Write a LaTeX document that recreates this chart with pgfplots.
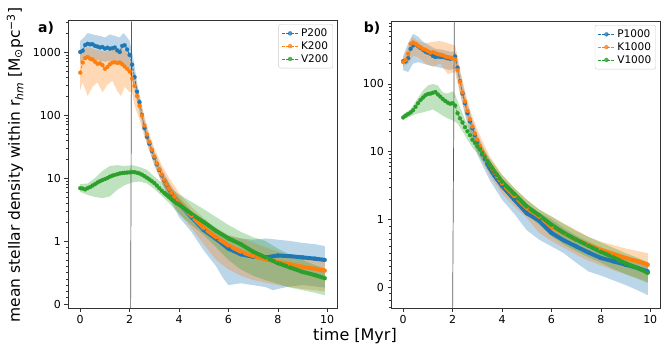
\documentclass[border=0pt]{standalone}
\usepackage{fontspec}
\setmainfont{DejaVu Sans}
\usepackage{pgfplots}
\usepackage{pgfplotstable}
\pgfplotsset{compat=1.18}

\definecolor{tabblue}{HTML}{1F77B4}
\definecolor{taborange}{HTML}{FF7F0E}
\definecolor{tabgreen}{HTML}{2CA02C}

% ---- panel a) ----
\pgfplotstableread{
x y
0.0 1000
0.1 1050
0.2 1290
0.3 1350
0.4 1320
0.5 1330
0.6 1250
0.7 1220
0.8 1180
0.9 1200
1.0 1130
1.1 1170
1.2 1130
1.3 1150
1.4 1180
1.5 1060
1.6 1000
1.7 1250
1.8 1280
1.9 1100
2.0 900
2.1 630
2.2 400
2.3 235
2.4 160
2.5 100
2.6 62
2.7 45
2.8 35
2.9 27
3.0 21
3.1 16.5
3.2 13.4
3.3 11
3.4 9.2
3.5 7.8
3.6 6.6
3.7 5.6
3.8 4.9
3.9 4.4
4.0 4.0
4.5 2.4
5.0 1.5
5.5 1.08
6.0 0.88
6.5 0.79
7.0 0.75
7.5 0.74
8.0 0.77
8.5 0.76
9.0 0.74
9.5 0.72
9.9 0.70
}\Ptwo

\pgfplotstableread{
x y
0.0 470
0.1 680
0.2 800
0.3 830
0.4 780
0.5 760
0.6 700
0.7 650
0.8 660
0.9 620
1.0 540
1.1 580
1.2 640
1.3 680
1.4 690
1.5 670
1.6 680
1.7 640
1.8 590
1.9 540
2.0 490
2.1 380
2.2 290
2.3 200
2.4 140
2.5 98
2.6 68
2.7 49
2.8 37
2.9 28
3.0 22
3.1 17
3.2 13.8
3.3 11.3
3.4 9.4
3.5 7.9
3.6 6.7
3.7 5.8
3.8 5.0
3.9 4.4
4.0 4.0
4.5 2.5
5.0 1.6
5.5 1.15
6.0 0.93
6.5 0.83
7.0 0.76
7.5 0.71
8.0 0.67
8.5 0.63
9.0 0.59
9.5 0.56
9.9 0.53
}\Ktwo

\pgfplotstableread{
x y
0.0 6.9
0.1 6.8
0.2 6.6
0.3 6.9
0.4 7.2
0.5 7.6
0.6 8.0
0.7 8.5
0.8 8.9
0.9 9.3
1.0 9.6
1.1 10.0
1.2 10.5
1.3 10.9
1.4 11.2
1.5 11.5
1.6 11.8
1.7 12.0
1.8 12.1
1.9 12.2
2.0 12.3
2.1 12.4
2.2 12.4
2.3 12.1
2.4 11.8
2.5 11.3
2.6 10.7
2.7 10.1
2.8 9.5
2.9 8.9
3.0 8.3
3.1 7.6
3.2 6.9
3.3 6.3
3.4 5.8
3.5 5.4
3.6 5.0
3.7 4.6
3.8 4.3
3.9 4.0
4.0 3.8
4.5 2.7
5.0 2.0
5.5 1.45
6.0 1.1
6.5 0.95
7.0 0.83
7.5 0.74
8.0 0.65
8.5 0.58
9.0 0.51
9.5 0.46
9.9 0.41
}\Vtwo

% ---- panel b) ----
\pgfplotstableread{
x y
0.0 218
0.1 215
0.2 240
0.3 330
0.4 370
0.5 385
0.6 360
0.7 340
0.8 320
0.9 300
1.0 290
1.1 280
1.2 260
1.3 250
1.4 255
1.5 250
1.6 250
1.7 245
1.8 240
1.9 235
2.0 240
2.1 255
2.2 174
2.3 110
2.4 72
2.5 52
2.6 37
2.7 28
2.8 22
2.9 17.5
3.0 14
3.1 11.3
3.2 9.1
3.3 7.8
3.4 6.6
3.5 5.7
3.6 5.0
3.7 4.4
3.8 3.9
3.9 3.5
4.0 3.1
4.5 1.95
5.0 1.23
5.5 0.98
6.0 0.80
6.5 0.69
7.0 0.60
7.5 0.51
8.0 0.43
8.5 0.38
9.0 0.33
9.5 0.28
9.9 0.23
}\Pthou

\pgfplotstableread{
x y
0.0 210
0.1 225
0.2 280
0.3 390
0.4 410
0.5 390
0.6 365
0.7 350
0.8 330
0.9 320
1.0 305
1.1 290
1.2 295
1.3 285
1.4 275
1.5 270
1.6 265
1.7 255
1.8 250
1.9 245
2.0 240
2.1 230
2.2 160
2.3 108
2.4 75
2.5 55
2.6 40
2.7 30
2.8 23.5
2.9 18.5
3.0 15
3.1 12.3
3.2 10.2
3.3 8.7
3.4 7.4
3.5 6.4
3.6 5.6
3.7 4.9
3.8 4.3
3.9 3.8
4.0 3.4
4.5 2.2
5.0 1.47
5.5 1.1
6.0 0.89
6.5 0.79
7.0 0.70
7.5 0.62
8.0 0.55
8.5 0.49
9.0 0.43
9.5 0.38
9.9 0.33
}\Kthou

\pgfplotstableread{
x y
0.0 32
0.1 34
0.2 36
0.3 38
0.4 41
0.5 46
0.6 52
0.7 58
0.8 63
0.9 68
1.0 71
1.1 72
1.2 74
1.3 76
1.4 70
1.5 65
1.6 60
1.7 56
1.8 53
1.9 51
2.0 52
2.1 48
2.2 37
2.3 31
2.4 27
2.5 23
2.6 20
2.7 17.5
2.8 15
2.9 13.5
3.0 12
3.1 10.7
3.2 9.5
3.3 8.4
3.4 7.3
3.5 6.4
3.6 5.7
3.7 5.0
3.8 4.5
3.9 4.0
4.0 3.6
4.5 2.35
5.0 1.55
5.5 1.15
6.0 0.92
6.5 0.80
7.0 0.70
7.5 0.61
8.0 0.52
8.5 0.44
9.0 0.35
9.5 0.28
9.9 0.21
}\Vthou

\pgfplotsset{
  panel/.style={
    scale only axis, width=269pt,
    xmin=-0.495, xmax=10.395,
    xtick={0,2,4,6,8,10},
    y coord trafo/.code={\pgfmathparse{ifthenelse(##1<1,##1,1+ln(max(##1,1))/ln(10))}},
    tick align=outside, xtick pos=left, ytick pos=left,
    major tick length=3.5pt, minor tick length=2pt,
    every tick/.style={black!80, line width=0.6pt},
    axis line style={black!80, line width=0.6pt},
    ticklabel style={font=\fontsize{11}{13}\selectfont},
    /pgf/number format/assume math mode=true,
    legend cell align=left,
    legend style={at={(0.985,0.986)}, anchor=north east, draw=black!20,
      rounded corners=2pt, fill=white, fill opacity=0.8, text opacity=1,
      font=\fontsize{10.5}{12.5}\selectfont, inner sep=2.5pt, row sep=-0.5pt},
  },
  ser/.style={color=#1, dash pattern=on 3pt off 1.5pt, line width=0.8pt,
    mark=*, mark size=2pt, mark options={solid, line width=0.2pt, fill=#1}},
  thk/.style={color=#1, line width=4pt, forget plot, no marks,
    restrict x to domain=3.4:10},
  band/.style={fill=#1, fill opacity=0.3, draw=none, forget plot},
}

\begin{document}
\begin{tikzpicture}
\path[use as bounding box] (0,0) rectangle (664pt,-348pt);

\begin{axis}[panel, at={(68pt,-308pt)}, anchor=south west, height=288pt,
  ymin=-0.063, ymax=3220,
  ytick={0,1,10,100,1000}, yticklabels={0,1,10,100,1000},
  minor ytick={0.1,0.2,0.3,0.4,0.5,0.6,0.7,0.8,0.9,2,3,4,5,6,7,8,9,20,30,40,50,60,70,80,90,200,300,400,500,600,700,800,900,2000,3000}]
% bands
\addplot[band=tabblue] coordinates {
(0,1500) (0.15,1700) (0.3,2000) (0.5,1900) (0.8,1800) (1.0,1700) (1.2,1900) (1.4,1800) (1.6,1700) (1.75,2000) (1.9,1700) (2.0,1500) (2.1,1000) (2.2,600) (2.3,330) (2.4,210) (2.6,85) (2.8,45) (3.0,26) (3.3,14) (3.6,8.5) (4.0,5.0) (4.5,3.0) (5.0,2.0) (5.5,1.5) (6.0,1.2) (6.5,1.1) (7.0,1.05) (7.5,1.1) (8.0,1.05) (8.5,1.0) (9.0,0.97) (9.5,0.95) (9.9,0.92)
(9.9,0.26) (9.5,0.28) (9.0,0.3) (8.5,0.28) (8.0,0.24) (7.8,0.22) (7.5,0.27) (7.0,0.3) (6.5,0.33) (6.0,0.3) (5.8,0.4) (5.5,0.6) (5.0,0.85) (4.5,1.4) (4.0,2.4) (3.6,4.8) (3.3,8.5) (3.0,16) (2.7,36) (2.5,75) (2.3,160) (2.2,250) (2.1,380) (2.0,550) (1.8,650) (1.4,750) (1.0,700) (0.6,750) (0.3,800) (0,700)
} -- cycle;
\addplot[band=taborange] coordinates {
(0,1000) (0.3,1200) (0.6,1100) (1.0,1000) (1.3,1100) (1.6,1150) (1.9,1000) (2.0,850) (2.1,600) (2.2,420) (2.4,200) (2.6,95) (2.8,50) (3.0,30) (3.3,16) (3.6,10) (4.0,5.8) (4.5,3.5) (5.0,2.3) (5.5,1.6) (6.0,1.25) (6.5,1.1) (7.0,0.98) (7.5,0.9) (8.0,0.83) (8.5,0.78) (9.0,0.74) (9.5,0.7) (9.9,0.68)
(9.9,0.2) (9.5,0.22) (9.0,0.24) (8.5,0.27) (8.0,0.3) (7.5,0.34) (7.0,0.38) (6.5,0.45) (6.0,0.55) (5.5,0.7) (5.0,0.95) (4.5,1.6) (4.0,2.8) (3.6,5.0) (3.3,8.5) (3.0,16) (2.8,27) (2.6,45) (2.4,85) (2.2,140) (2.1,230) (2.0,230) (1.8,280) (1.65,200) (1.5,240) (1.3,350) (1.1,300) (0.9,230) (0.7,330) (0.5,280) (0.3,200) (0.1,330) (0,250)
} -- cycle;
\addplot[band=tabgreen] coordinates {
(0,8.0) (0.3,8.2) (0.6,10) (0.9,13) (1.2,15.5) (1.5,16) (1.8,15.5) (2.1,16) (2.4,15) (2.7,13.5) (3.0,10.5) (3.3,8.5) (3.6,7) (4.0,5.5) (4.5,4.2) (5.0,3.2) (5.5,2.4) (6.0,1.8) (6.5,1.4) (7.0,1.15) (7.5,1.0) (8.0,0.88) (8.5,0.78) (9.0,0.7) (9.5,0.62) (9.9,0.56)
(9.9,0.14) (9.5,0.18) (9.0,0.22) (8.5,0.26) (8.0,0.32) (7.5,0.38) (7.0,0.45) (6.5,0.55) (6.0,0.7) (5.5,0.9) (5.0,1.25) (4.5,1.8) (4.0,2.7) (3.6,4.0) (3.3,5.2) (3.0,6.7) (2.7,8.2) (2.4,8.8) (2.1,8.5) (1.8,7.7) (1.5,6.5) (1.2,5.1) (0.9,4.8) (0.6,5.0) (0.3,5.4) (0,6.0)
} -- cycle;
% vertical marker
\addplot[black!65, line width=0.7pt, forget plot] coordinates {(2.04,-0.063) (2.08,3220)};
% series
\addplot[ser=tabblue] table {\Ptwo};
\addplot[thk=tabblue] table {\Ptwo};
\addplot[ser=taborange] table {\Ktwo};
\addplot[thk=taborange] table {\Ktwo};
\addplot[ser=tabgreen] table {\Vtwo};
\addplot[thk=tabgreen] table {\Vtwo};
\legend{P200, K200, V200}
\end{axis}

\begin{axis}[panel, at={(391pt,-308pt)}, anchor=south west, height=287pt,
  ymin=-0.31, ymax=851,
  ytick={0,1,10,100}, yticklabels={0,1,10,100},
  minor ytick={-0.3,-0.2,-0.1,0.1,0.2,0.3,0.4,0.5,0.6,0.7,0.8,0.9,2,3,4,5,6,7,8,9,20,30,40,50,60,70,80,90,200,300,400,500,600,700,800}]
\addplot[band=tabblue] coordinates {
(0,260) (0.2,400) (0.4,550) (0.6,500) (0.8,420) (1.0,380) (1.3,330) (1.6,320) (1.9,300) (2.1,300) (2.2,230) (2.3,150) (2.5,70) (2.7,38) (3.0,18) (3.5,7.3) (4.0,4.0) (4.5,2.6) (5.0,1.7) (5.5,1.25) (6.0,1.0) (6.5,0.87) (7.0,0.76) (7.5,0.67) (8.0,0.58) (8.5,0.51) (9.0,0.45) (9.5,0.39) (9.9,0.34)
(9.9,-0.12) (9.5,-0.05) (9.0,0.03) (8.5,0.1) (8.0,0.17) (7.5,0.23) (7.0,0.36) (6.5,0.5) (6.0,0.6) (5.5,0.7) (5.0,0.84) (4.5,1.2) (4.0,1.95) (3.5,3.8) (3.0,9) (2.7,19) (2.5,35) (2.3,75) (2.2,120) (2.1,170) (1.9,160) (1.6,170) (1.3,180) (1.0,190) (0.8,200) (0.6,210) (0.4,200) (0.2,150) (0,160)
} -- cycle;
\addplot[band=taborange] coordinates {
(0,240) (0.2,350) (0.35,500) (0.6,430) (0.9,400) (1.2,420) (1.5,430) (1.8,400) (2.1,370) (2.2,260) (2.3,160) (2.5,80) (2.7,42) (3.0,21) (3.5,8.5) (4.0,4.6) (4.5,2.9) (5.0,1.95) (5.5,1.4) (6.0,1.1) (6.5,0.94) (7.0,0.84) (7.5,0.74) (8.0,0.67) (8.5,0.62) (9.0,0.57) (9.5,0.53) (9.9,0.50)
(9.9,0.08) (9.5,0.13) (9.0,0.19) (8.5,0.25) (8.0,0.32) (7.5,0.39) (7.0,0.48) (6.5,0.58) (6.0,0.68) (5.5,0.8) (5.0,1.05) (4.5,1.55) (4.0,2.4) (3.5,4.5) (3.0,10) (2.7,21) (2.5,37) (2.3,70) (2.2,100) (2.1,150) (1.8,140) (1.5,200) (1.2,180) (0.9,200) (0.6,250) (0.4,260) (0.2,200) (0,180)
} -- cycle;
\addplot[band=tabgreen] coordinates {
(0,36) (0.3,42) (0.5,55) (0.8,80) (1.0,95) (1.2,100) (1.4,95) (1.6,75) (1.8,72) (2.0,78) (2.1,70) (2.3,45) (2.5,30) (2.7,22) (3.0,15) (3.5,8.0) (4.0,4.5) (4.5,2.9) (5.0,1.95) (5.5,1.4) (6.0,1.1) (6.5,0.93) (7.0,0.83) (7.5,0.74) (8.0,0.66) (8.5,0.58) (9.0,0.5) (9.5,0.43) (9.9,0.37)
(9.9,0.06) (9.5,0.12) (9.0,0.19) (8.5,0.27) (8.0,0.36) (7.5,0.44) (7.0,0.53) (6.5,0.63) (6.0,0.75) (5.5,0.92) (5.0,1.2) (4.5,1.8) (4.0,2.8) (3.5,5.0) (3.0,9.5) (2.8,11.5) (2.6,15) (2.4,20) (2.2,26) (2.0,29) (1.8,31) (1.6,34) (1.4,38) (1.2,42) (1.0,40) (0.8,38) (0.5,36) (0.3,33) (0,30)
} -- cycle;
\addplot[black!65, line width=0.7pt, forget plot] coordinates {(2.0,-0.31) (2.07,851)};
\addplot[ser=tabblue] table {\Pthou};
\addplot[thk=tabblue] table {\Pthou};
\addplot[ser=taborange] table {\Kthou};
\addplot[thk=taborange] table {\Kthou};
\addplot[ser=tabgreen] table {\Vthou};
\addplot[thk=tabgreen] table {\Vthou};
\legend{P1000, K1000, V1000}
\end{axis}

\node[font=\bfseries\fontsize{14}{16}\selectfont] at (46pt,-28pt) {a)};
\node[font=\bfseries\fontsize{14}{16}\selectfont] at (372pt,-28pt) {b)};
\node[rotate=90, font=\fontsize{15.5}{18}\selectfont] at (15pt,-165pt)
  {mean stellar density within r\textsubscript{\textit{hm}} [M\textsubscript{⊙}pc\textsuperscript{−3}]};
\node[font=\fontsize{16}{18}\selectfont] at (355pt,-336pt) {time [Myr]};
\end{tikzpicture}
\end{document}
